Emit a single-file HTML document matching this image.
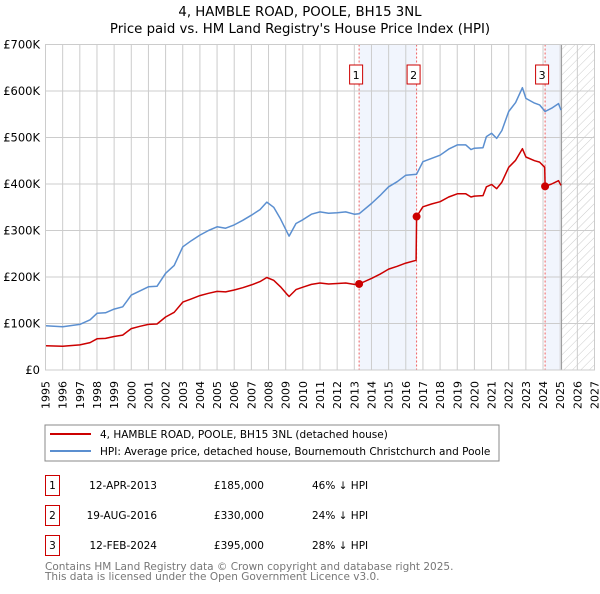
<!DOCTYPE html>
<html><head><meta charset="utf-8"><style>
body{margin:0;background:#fff;font-family:"DejaVu Sans","Liberation Sans",sans-serif;}
svg text{font-family:"DejaVu Sans","Liberation Sans",sans-serif;}
</style></head><body>
<svg id="chart" width="600" height="590" viewBox="0 0 600 590">
<defs><pattern id="hatch" width="6" height="6" patternUnits="userSpaceOnUse" patternTransform="rotate(45)"><line x1="0" y1="0" x2="0" y2="6" stroke="#ccc" stroke-width="1"/></pattern></defs>
<text x="300" y="16" text-anchor="middle" font-size="13.3" fill="#000">4, HAMBLE ROAD, POOLE, BH15 3NL</text>
<text x="300" y="33" text-anchor="middle" font-size="13.3" fill="#000">Price paid vs. HM Land Registry's House Price Index (HPI)</text>
<g id="plot"></g>
<rect x="45" y="425" width="454" height="36" fill="#fff" stroke="#888"/>
<line x1="50" y1="434" x2="91" y2="434" stroke="#cc0000" stroke-width="2"/>
<text x="100" y="438" font-size="10.5">4, HAMBLE ROAD, POOLE, BH15 3NL (detached house)</text>
<line x1="50" y1="451" x2="91" y2="451" stroke="#5b8fd0" stroke-width="2"/>
<text x="100" y="455" font-size="10.5">HPI: Average price, detached house, Bournemouth Christchurch and Poole</text>
<g id="table" font-size="10.5"></g>
<text x="45" y="570" font-size="10.5" fill="#777">Contains HM Land Registry data © Crown copyright and database right 2025.</text>
<text x="45" y="580" font-size="10.5" fill="#777">This data is licensed under the Open Government Licence v3.0.</text>
</svg>
<script>
const hpiT=[1995,1996,1997,1997.6,1998,1998.5,1999,1999.5,2000,2000.5,2001,2001.5,2002,2002.5,2003,2003.5,2004,2004.5,2005,2005.5,2006,2006.5,2007,2007.5,2007.9,2008.3,2008.7,2009.1,2009.2,2009.6,2010,2010.5,2011,2011.5,2012,2012.5,2013,2013.28,2014,2014.5,2015,2015.5,2016,2016.63,2017,2017.5,2018,2018.5,2019,2019.5,2019.8,2020,2020.5,2020.7,2021,2021.3,2021.6,2022,2022.4,2022.8,2023,2023.5,2023.8,2024.12,2024.5,2024.9,2025.05];
const hpiV=[95,93,98,108,122,123,131,136,161,170,179,180,208,225,265,278,290,300,308,305,312,322,333,345,361,350,325,295,288,315,323,335,340,337,338,340,335,336,358,375,394,405,419,421,448,455,462,475,484,484,474,477,478,502,509,498,515,556,575,607,584,574,570,556,563,573,559];
const propT=[1995,1996,1997,1997.6,1998,1998.5,1999,1999.5,2000,2000.5,2001,2001.5,2002,2002.5,2003,2003.5,2004,2004.5,2005,2005.5,2006,2006.5,2007,2007.5,2007.9,2008.3,2008.7,2009.1,2009.2,2009.6,2010,2010.5,2011,2011.5,2012,2012.5,2013,2013.28,2014,2014.5,2015,2015.5,2016,2016.6,2016.63,2017,2017.5,2018,2018.5,2019,2019.5,2019.8,2020,2020.5,2020.7,2021,2021.3,2021.6,2022,2022.4,2022.8,2023,2023.5,2023.8,2024.1,2024.12,2024.5,2024.9,2025.05];
const propV=[52,51,54,59,67,68,72,75,89,94,98,99,114,124,146,153,160,165,169,168,172,177,183,190,199,193,179,162,158,173,178,184,187,185,186,187,184,185,197,206,217,223,230,236,330,351,357,362,372,379,379,372,374,375,394,399,390,404,436,451,476,458,450,447,436,395,400,407,397];
const saleT=[2013.28,2016.63,2024.12];
const saleV=[185,330,395];
const saleLabels=["1","2","3"];
const saleDates=["12-APR-2013","19-AUG-2016","12-FEB-2024"];
const salePrices=["£185,000","£330,000","£395,000"];
const salePct=["46% ↓ HPI","24% ↓ HPI","28% ↓ HPI"];
const yTicks=[0,100,200,300,400,500,600,700];
const yTickLabels=["£0","£100K","£200K","£300K","£400K","£500K","£600K","£700K"];
const xTicks=[1995,1996,1997,1998,1999,2000,2001,2002,2003,2004,2005,2006,2007,2008,2009,2010,2011,2012,2013,2014,2015,2016,2017,2018,2019,2020,2021,2022,2023,2024,2025,2026,2027];
const forecastStart=2025.08;

const NS="http://www.w3.org/2000/svg";
const X0=45.5,X1=594.5,Y0=370,Y1=44.5;
const xs=t=>X0+(t-1995)/(2027-1995)*(X1-X0);
const ys=v=>Y0-v/700*(Y0-Y1);
const plot=document.getElementById('plot');
function mk(tag,attrs,parent){const e=document.createElementNS(NS,tag);for(const k in attrs)e.setAttribute(k,attrs[k]);(parent||plot).appendChild(e);return e;}

let e;
e=mk('rect',{x:X0,y:Y1,width:X1-X0,height:Y0-Y1,fill:'#fff'});


e=mk('rect',{x:xs(saleT[0]),y:Y1,width:xs(saleT[1])-xs(saleT[0]),height:Y0-Y1,fill:'#eef3fc',opacity:0.8});


e=mk('rect',{x:xs(saleT[2]),y:Y1,width:xs(forecastStart)-xs(saleT[2]),height:Y0-Y1,fill:'#eef3fc',opacity:0.8});


e=mk('rect',{x:xs(forecastStart),y:Y1,width:X1-xs(forecastStart),height:Y0-Y1,fill:'url(#hatch)'});


xTicks.forEach(t=>{
  e=mk('line',{x1:xs(t),x2:xs(t),y1:Y1,y2:Y0,stroke:'#ccc','stroke-width':1});
  
  
  const tx=xs(t)+4, ty=381;
  e=mk('text',{x:tx,y:ty,'text-anchor':'end','font-size':11,transform:'rotate(-90 '+tx+' '+ty+')'});
  e.textContent=t;
  
  
});
yTicks.forEach((v,i)=>{
  e=mk('line',{x1:X0,x2:X1,y1:ys(v),y2:ys(v),stroke:'#ccc','stroke-width':1});
  
  
  e=mk('text',{x:40,y:ys(v)+4,'text-anchor':'end','font-size':11.5});
  e.textContent=yTickLabels[i];
  
  
});
e=mk('line',{x1:xs(forecastStart),x2:xs(forecastStart),y1:Y1,y2:Y0,stroke:'#999','stroke-width':1});


saleT.forEach((t,i)=>{
  e=mk('line',{x1:xs(t),x2:xs(t),y1:Y1,y2:Y0,stroke:'#f06060','stroke-width':1,'stroke-dasharray':'2,2'});
  
  
});
function path(T,V){return T.map((t,i)=>(i?'L':'M')+xs(t).toFixed(1)+','+ys(V[i]).toFixed(1)).join(' ');}
e=mk('path',{d:path(hpiT,hpiV),fill:'none',stroke:'#5b8fd0','stroke-width':1.5,'stroke-linejoin':'round'});


e=mk('path',{d:path(propT,propV),fill:'none',stroke:'#cc0000','stroke-width':1.5,'stroke-linejoin':'round'});


saleT.forEach((t,i)=>{
  e=mk('circle',{cx:xs(t),cy:ys(saleV[i]),r:4,fill:'#cc0000'});
  
  
  e=mk('rect',{x:xs(t)-9.5,y:65,width:13,height:19,fill:'#fff',stroke:'#cc0000'});
  
  
  e=mk('text',{x:xs(t)-3,y:79,'text-anchor':'middle','font-size':11});
  e.textContent=saleLabels[i];
  
  
});
e=mk('rect',{x:X0,y:Y1,width:X1-X0,height:Y0-Y1,fill:'none',stroke:'#ccc'});



const tbl=document.getElementById('table');
saleLabels.forEach((l,i)=>{
  const y=475+i*30;
  e=mk('rect',{x:45.5,y:y+0.5,width:14,height:20,fill:'#fff',stroke:'#cc0000'},tbl);
  
  
  e=mk('text',{x:52.5,y:y+14,'text-anchor':'middle'},tbl);e.textContent=l;
  
  
  e=mk('text',{x:157,y:y+14,'text-anchor':'end'},tbl);e.textContent=saleDates[i];
  
  
  e=mk('text',{x:264,y:y+14,'text-anchor':'end'},tbl);e.textContent=salePrices[i];
  
  
  e=mk('text',{x:312,y:y+14},tbl);e.textContent=salePct[i];
  
  
});
</script>
</body></html>
